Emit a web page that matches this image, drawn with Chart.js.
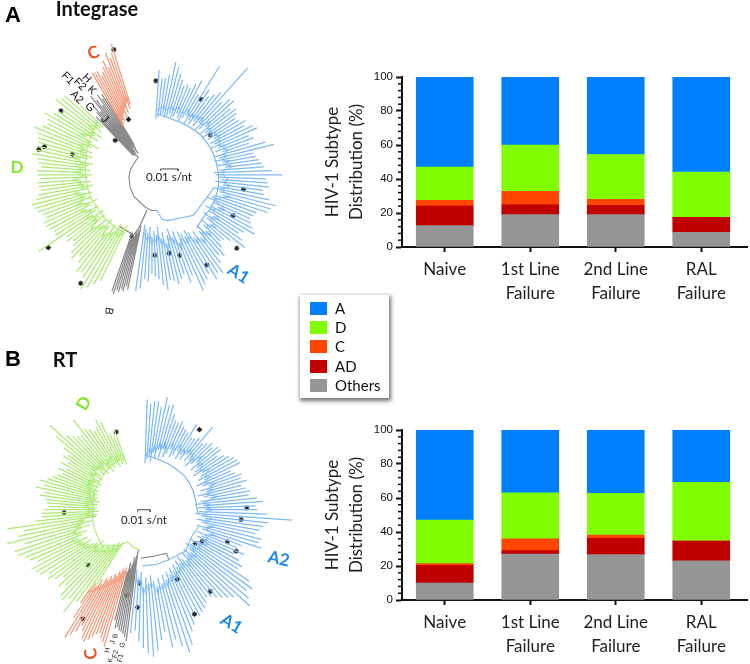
<!DOCTYPE html>
<html>
<head>
<meta charset="utf-8">
<title>HIV-1 subtype distribution</title>
<script src="https://cdn.jsdelivr.net/npm/chart.js@4"></script>
<style>
html, body { margin: 0; padding: 0; background: #fff; }
#page { position: relative; width: 750px; height: 664px; overflow: hidden; }
#page canvas { position: absolute; }
.lbl { position: absolute; white-space: nowrap; transform-origin: center; font-family: Lato, sans-serif; line-height: 1; }
#legend { position: absolute; left: 300px; top: 295px; width: 89px; height: 103px; background: #fff;
  box-shadow: 1px 2px 4px 1px rgba(0,0,0,.55); font: 15px Lato, sans-serif; color: #111; }
#legend div { position: absolute; left: 10px; height: 19px; line-height: 13px; padding-left: 25px; }
#legend i { position: absolute; left: 0; top: 0; width: 17px; height: 13px; }
</style>
</head>
<body>
<div id="page"></div>
<script>
// stacked bars
var categories = [["Naive"], ["1st Line", "Failure"], ["2nd Line", "Failure"], ["RAL", "Failure"]];
var subtypes = ["A", "D", "C", "AD", "Others"];
var yTicks = [0, 20, 40, 60, 80, 100];
var yMinorTicks = [4, 8, 12, 16, 24, 28, 32, 36, 44, 48, 52, 56, 64, 68, 72, 76, 84, 88, 92, 96];

var integraseA = [53, 40, 45.6, 56];
var integraseD = [19.5, 27.3, 26.4, 26.6];
var integraseC = [3.4, 7.7, 3.5, 0];
var integraseAD = [11.5, 6, 5.5, 8.8];
var integraseOthers = [12.6, 19, 19, 8.6];

var rtA = [53, 37, 37.3, 30.8];
var rtD = [25.6, 27, 24.5, 34.5];
var rtC = [1.2, 7, 1.9, 0];
var rtAD = [10.2, 2, 9.6, 11.7];
var rtOthers = [10, 27, 26.7, 23];

// integrase tree, branch tips and branch bases, one number per leaf
var intA1Tips = [108,100,101,105,119,115,108,103,98,100,98,104,110,96,132,106,100,105,111,148,104,112,114,106,110,108,104,106,112,108,116,119,108,112,106,122,130,108,109,112,114,116,124,135,118,120,122,116,118,124,132,128,126,115,113,111,114,118,123,112,108,115,122,106,100,98,104,112,108,115,125,122,127,118,122,126,131,112,118,108,112,116,112,110,120,114,108,105,102,110,108,118,121];
var intA1Bases = [66,68,70,72,68,70,74,70,72,76,72,70,74,78,70,76,72,78,74,80,72,76,82,74,78,72,80,76,82,76,80,74,82,78,84,76,80,74,82,76,84,78,72,74,76,80,74,82,78,72,80,84,76,74,70,78,84,76,72,78,84,74,80,86,76,82,88,78,84,90,80,86,78,74,80,76,72,84,70,76,66,72,80,68,74,62,70,66,72,62,68,64,60];
var intDTips = [122,128,134,139,128,124,127,118,112,120,116,110,106,112,109,142,118,117,120,122,123,118,120,124,126,128,122,119,116,118,119,116,118,119,115,118,120,126,122,122,122,124,126,131,124,120,122,128,120,116,112,126,122,122,103];
var intDBases = [66,70,74,68,78,72,84,76,70,80,74,88,72,78,70,82,76,72,84,78,70,86,74,80,72,84,76,70,78,72,82,74,70,80,72,78,74,70,84,76,72,80,74,82,76,70,78,86,74,80,72,84,76,80,78];
var intCTips = [122,121,121,115,118,122,128,120,135,128,132,141];
var intCBases = [65,68,72,70,75,78,72,82,76,86,80,84];
var intOtherTips = [83,78,86,92,84,103,96,88,100,94,98,92];
var intOtherBases = [36,40,34,44,38,46,36,42,48,34,40,44];
var intBTips = [121,118,124,122,126,124,129,127];
var intBBases = [62,66,70,68,74,72,78,70];
// [angle, length]
var intA1Spine = [[5,63],[10,62],[20,61],[30,62],[40,63],[50,65],[60,66],[70,67],[80,68],[90,69],[100,70],[110,70],[120,70],[130,69],[140,72]];
var intA1Stem = [[172,37],[167,47],[161,50],[134,60],[103,65]];
var intDSpine = [[314,79],[310,76],[300,74],[290,72],[280,70],[270,69],[260,68],[250,68],[240,66],[232,66],[225,66],[215,66],[205,66]];
var intRoot = [[320,30],[322,23],[300,22],[280,23],[263,24],[240,26],[220,29],[192,34],[180,37],[172,37]];
var intRootB = [[188,37],[194,57],[197,65],[213,63]];
var intStars = [[343,135],[2.4,97],[33,93],[55.6,73],[337,62],[325,52],[322.6,43],[313,52],[305,115],[284.6,115],[282.5,120],[284.4,85],[99,96],[116.6,94],[130.8,116],[148.5,109],[161,88],[167.5,83],[178,83],[198,67],[235,131],[213.4,134]];

// RT tree
var rtA1Tips = [114,110,113,113,108,119,111,113,104,98,97,100,96,94,92,104,90,91,94,111,92,95,99,96,101,101,94,100,104,108,110,111,99,102,108,106,111,104,108,112,110,118,124,116,118,128,154,130,125,122,118,126,124,128,108,104,114,104,112,118,115,132,139,136,142,148,130,126,122,118,114,112,116,120,122,124,118,130,135,148,155,147,138,145,128,136,146,152,148,143,136,125,128];
var rtA1Bases = [56,60,64,58,68,62,72,64,74,66,70,76,68,72,78,70,76,72,80,74,78,70,76,82,72,78,74,70,80,76,72,78,68,74,80,70,76,66,72,78,68,62,70,64,72,66,62,68,72,64,70,76,66,72,80,68,74,70,76,72,66,72,68,64,70,74,66,72,68,76,72,68,74,70,76,72,78,74,80,76,84,78,86,80,88,82,76,84,78,88,72,78,70];
var rtDTips = [91,100,118,134,120,126,123,112,118,108,116,122,118,126,128,131,122,128,132,138,140,128,145,132,126,142,112,106,105,103,98,100,102,108,104,114,106,111,104,100,96,92,98,90,99,92,100,96,104,118,130,110,106,102,100,118,104,100,96,98,105,101,85,82,88];
var rtDBases = [48,52,50,56,54,60,58,64,62,68,60,66,70,74,70,78,72,82,76,70,80,66,74,62,70,58,56,60,54,58,56,62,56,60,54,58,56,60,58,62,58,64,60,66,58,62,68,60,64,70,62,66,60,68,62,58,64,60,66,62,58,64,60,62,58];
var rtCTips = [147,143,140,135,138,142,146,150,148,140,136,144,150,155,133,116];
var rtCBases = [70,74,72,78,76,82,80,86,84,90,88,96,92,100,98,104];
var rtOtherTips = [137,133,130,128,127,124,126,118];
var rtOtherBases = [50,56,62,58,66,70,64,74];
var rtASpine = [[3,56],[10,55],[20,54],[30,54],[40,54],[50,55],[60,55],[70,55],[80,55],[88,55],[95,58]];
var rtAStem = [[181,58],[166,58],[152,58],[134,61],[119,57],[106,60]];
var rtDSpine = [[336,58],[330,57],[320,56],[310,55],[300,54],[290,54],[280,53],[270,53],[260,53],[250,54],[240,55],[229,57],[215,45],[206,37],[195,40],[184,42]];
var rtRoot = [[183,50],[168,49],[152,51],[153,59]];
var rtStars = [[340.7,85],[35,101],[268,82],[225,80.6],[89,107],[95.7,101.5],[110.8,93],[114,105],[118.4,69],[123,64],[154,80],[140.6,109],[153.9,120],[183,76],[191,90],[183.4,101],[209,129]];

var barColors = { A: "#0080ff", D: "#80ff00", C: "#ff4500", AD: "#c00000", Others: "#969696" };
var leafBlue = "#7dbaf4", leafGreen = "#abea72", leafRed = "#f09a7c", leafGrey = "#8a8a8a";
var leafDrop = 8;

var page = document.getElementById("page");

function addCanvas(left, top, w, h) {
	var c = document.createElement("canvas");
	c.width = w; c.height = h;
	c.style.left = left + "px"; c.style.top = top + "px";
	c.style.width = w + "px"; c.style.height = h + "px";
	page.appendChild(c);
	return c;
}

function addLabel(text, x, y, size, color, weight, rot, font) {
	var d = document.createElement("div");
	d.className = "lbl";
	d.textContent = text;
	d.style.left = x + "px"; d.style.top = y + "px";
	d.style.fontSize = size + "px"; d.style.color = color;
	d.style.fontWeight = weight || "normal";
	if (font) d.style.fontFamily = font;
	d.style.transform = "translate(-50%,-50%) rotate(" + (rot || 0) + "deg)";
	page.appendChild(d);
}

// minor y ticks and the bit of x axis that runs past the last bar
var axisExtras = {
	id: "axisExtras",
	afterDraw: function(chart) {
		var ctx = chart.ctx, y = chart.scales.y, x = chart.scales.x;
		ctx.save();
		ctx.strokeStyle = "#111";
		ctx.lineWidth = 1.5;
		yMinorTicks.forEach(function(v) {
			var p = y.getPixelForValue(v);
			ctx.beginPath(); ctx.moveTo(x.left - 4, p); ctx.lineTo(x.left, p); ctx.stroke();
		});
		ctx.lineWidth = 2;
		ctx.beginPath(); ctx.moveTo(x.right - 1, y.bottom); ctx.lineTo(x.right + 4, y.bottom); ctx.stroke();
		ctx.restore();
	}
};

function barChart(top, series) {
	var axisBottom = 187, h = 240;
	return new Chart(addCanvas(320, top, 430, h), {
		type: "bar",
		data: {
			labels: categories,
			datasets: [
				{ label: "Others", data: series.Others, backgroundColor: barColors.Others },
				{ label: "AD", data: series.AD, backgroundColor: barColors.AD },
				{ label: "C", data: series.C, backgroundColor: barColors.C },
				{ label: "D", data: series.D, backgroundColor: barColors.D },
				{ label: "A", data: series.A, backgroundColor: barColors.A }
			]
		},
		options: {
			responsive: false,
			animation: false,
			layout: { padding: { top: 17, right: 6 } },
			datasets: { bar: { barThickness: 57, borderWidth: 0 } },
			plugins: { legend: { display: false }, tooltip: { enabled: false } },
			scales: {
				x: {
					stacked: true,
					afterFit: function(s) { s.height = h - axisBottom; },
					grid: { offset: false, drawOnChartArea: false, tickLength: 5, tickWidth: 2, tickColor: "#111" },
					border: { color: "#111", width: 2 },
					ticks: { color: "#222", maxRotation: 0, autoSkip: false, padding: 6, font: { family: "Lato", size: 17, lineHeight: 1.38 } }
				},
				y: {
					stacked: true,
					min: 0,
					max: 100,
					afterBuildTicks: function(s) { s.ticks = yTicks.map(function(v) { return { value: v }; }); },
					afterFit: function(s) { s.width = 82; },
					grid: { drawOnChartArea: false, tickLength: 6, tickWidth: 2, tickColor: "#111" },
					border: { color: "#111", width: 2 },
					ticks: { color: "#111", padding: 3, font: { family: "Liberation Sans", size: 11.5 } },
					title: { display: true, text: ["HIV-1 Subtype", "Distribution (%)"], color: "#222", padding: 1, font: { family: "Lato", size: 17, lineHeight: 1.38 } }
				}
			}
		},
		plugins: [axisExtras]
	});
}

function polar(p) {
	var a = p[0] * Math.PI / 180;
	return { x: p[1] * Math.sin(a), y: p[1] * Math.cos(a) };
}

// one dataset for the leaves, one for the comb joining their bases
function cladeDatasets(start, step, tips, bases, color) {
	var leaves = [], comb = [];
	tips.forEach(function(t, i) {
		var a = start + i * step;
		leaves.push(polar([a, bases[i] - leafDrop]), polar([a, t]), { x: null, y: null });
		comb.push(polar([a, bases[i]]));
	});
	return [lineSet(leaves, color, 1.25), lineSet(comb, color, 1)];
}

function lineSet(points, color, width) {
	return { data: points, showLine: true, borderColor: color, borderWidth: width, pointRadius: 0, spanGaps: false };
}

function treeChart(cfg) {
	var sets = [];
	cfg.clades.forEach(function(c) { sets = sets.concat(cladeDatasets(c[0], c[1], c[2], c[3], c[4])); });
	cfg.paths.forEach(function(p) { sets.push(lineSet(p[0].map(polar), p[1], 1.1)); });
	// scale bar 0.01 s/nt
	var b = cfg.bar;
	sets.push(lineSet([{ x: b[0], y: b[1] - 2 }, { x: b[0], y: b[1] }, { x: b[0] + b[2], y: b[1] }, { x: b[0] + b[2], y: b[1] - 2 }], "#444", 1));
	sets.push({ data: cfg.stars.map(polar), showLine: false, pointStyle: "star", pointRadius: 2.6, borderColor: "#222", borderWidth: 1.1 });
	return new Chart(addCanvas(0, cfg.top, cfg.w, cfg.h), {
		type: "scatter",
		data: { datasets: sets },
		options: {
			responsive: false,
			animation: false,
			events: [],
			plugins: { legend: { display: false }, tooltip: { enabled: false } },
			scales: {
				x: { display: false, min: -cfg.cx, max: cfg.w - cfg.cx },
				y: { display: false, min: cfg.cy - cfg.h, max: cfg.cy }
			}
		}
	});
}

treeChart({
	top: 0, w: 300, h: 335, cx: 152, cy: 175,
	clades: [
		[4, 2, intA1Tips, intA1Bases, leafBlue],
		[206, 2, intDTips, intDBases, leafGreen],
		[329.5, 1.2, intCTips, intCBases, leafRed],
		[316, 1.2, intOtherTips, intOtherBases, leafGrey],
		[192, 1, intBTips, intBBases, leafGrey]
	],
	paths: [[intA1Spine, "#6fb2f0"], [intA1Stem, leafBlue], [intDSpine, leafGreen], [intRoot, "#888"], [intRootB, "#777"]],
	bar: [9, 6, 18],
	stars: intStars
});

treeChart({
	top: 340, w: 310, h: 324, cx: 143, cy: 170,
	clades: [
		[2, 2, rtA1Tips, rtA1Bases, leafBlue],
		[212, 2, rtDTips, rtDBases, leafGreen],
		[196, 1.2, rtCTips, rtCBases, leafRed],
		[187.5, 1, rtOtherTips, rtOtherBases, leafGrey]
	],
	paths: [[rtASpine, "#6fb2f0"], [rtAStem, leafBlue], [rtDSpine, leafGreen], [rtRoot, "#888"]],
	bar: [-6, 0, 13],
	stars: rtStars
});

barChart(60, { A: integraseA, D: integraseD, C: integraseC, AD: integraseAD, Others: integraseOthers });
barChart(413, { A: rtA, D: rtD, C: rtC, AD: rtAD, Others: rtOthers });

// legend
var legend = document.createElement("div");
legend.id = "legend";
subtypes.forEach(function(s, i) {
	var row = document.createElement("div");
	row.style.top = (7 + i * 19.2) + "px";
	row.innerHTML = '<i style="background:' + barColors[s] + '"></i>' + s;
	legend.appendChild(row);
});
page.appendChild(legend);

// panel titles and clade labels
var arial = "'Liberation Sans', sans-serif";
addLabel("A", 13, 15, 22, "#000", "bold", 0, arial);
addLabel("Integrase", 97, 8, 20, "#111", "bold");
addLabel("B", 13, 359, 22, "#000", "bold", 0, arial);
addLabel("RT", 65, 359, 20, "#111", "bold");

addLabel("C", 93, 52, 17, "#ee5222", "bold", -20);
addLabel("D", 17, 166, 17, "#80e828", "bold");
addLabel("A1", 239, 273, 17, "#1e88e8", "bold", 32);
addLabel("H", 87, 78, 11, "#111", "normal", 45, arial);
addLabel("F1", 68, 78, 11, "#111", "normal", 45, arial);
addLabel("F2", 80, 84, 11, "#111", "normal", 45, arial);
addLabel("K", 92, 90, 11, "#111", "normal", 45, arial);
addLabel("A2", 77, 97, 11, "#111", "normal", 45, arial);
addLabel("G", 90, 107, 11, "#111", "normal", 45, arial);
addLabel("J", 105, 119, 11, "#111", "normal", 45, arial);
addLabel("B", 109, 311, 11, "#111", "normal", 100, arial);
addLabel("0.01 s/nt", 169, 177, 11.5, "#222");

addLabel("D", 83, 403, 17, "#80e828", "bold", -60);
addLabel("C", 90, 654, 17, "#ee5222", "bold", -100);
addLabel("A1", 232, 623, 17, "#1e88e8", "bold", 32);
addLabel("A2", 279, 558, 17, "#1e88e8", "bold", 12);
addLabel("H", 107, 650, 7, "#222", "normal", -80, arial);
addLabel("J", 112, 642, 7, "#222", "normal", -80, arial);
addLabel("B", 115, 636, 7, "#222", "normal", -80, arial);
addLabel("G", 122, 645, 7, "#222", "normal", -80, arial);
addLabel("F2", 115, 654, 7, "#222", "normal", -80, arial);
addLabel("F1", 120, 658, 7, "#222", "normal", -80, arial);
addLabel("K", 110, 660, 7, "#222", "normal", -80, arial);
addLabel("0.01 s/nt", 144, 520, 11.5, "#222");
</script>
</body>
</html>
